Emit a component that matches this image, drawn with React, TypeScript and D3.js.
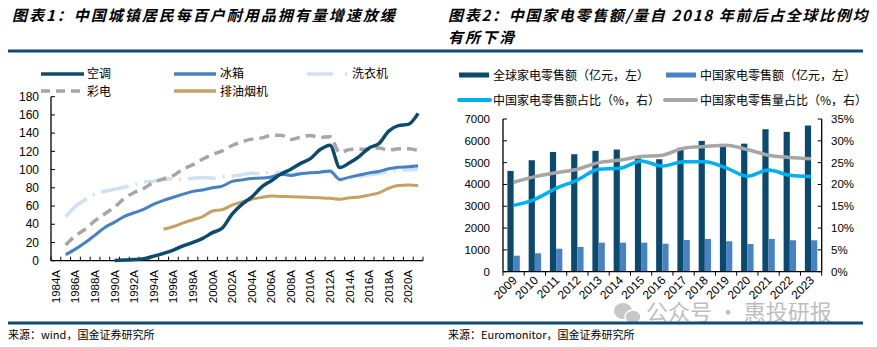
import React from "react";
import * as d3 from "d3";

// ---------- Chart 1 data ----------
const years1 = d3.range(1984, 2022); // 1984..2021 categories
const yTicks1 = [0, 20, 40, 60, 80, 100, 120, 140, 160, 180];
const acYears = d3.range(1990, 2022);
const acValues = [0.3, 0.7, 1.2, 2.3, 5.0, 8.1, 11.6, 16.3, 20.0, 24.5, 30.8, 35.8, 51.1, 61.8, 69.8, 80.7, 87.8, 95.1, 100.3, 106.8, 112.1, 122.0, 126.8, 102.2, 107.4, 114.6, 123.7, 128.6, 142.2, 148.3, 149.6, 161.7];
const fridgeYears = d3.range(1985, 2022);
const fridgeValues = [6.6, 12.7, 19.9, 28.1, 36.5, 42.3, 48.7, 52.6, 56.7, 62.1, 66.2, 69.7, 73.0, 76.1, 77.7, 80.1, 81.9, 87.0, 88.7, 90.2, 90.7, 91.8, 95.0, 93.6, 95.4, 96.6, 97.2, 98.5, 89.2, 91.7, 94.0, 96.4, 98.0, 100.9, 102.5, 103.1, 104.2];
const washerYears = d3.range(1985, 2022);
const washerValues = [48.3, 59.7, 66.8, 73.4, 76.2, 78.4, 80.6, 83.4, 86.4, 87.3, 89.0, 90.1, 89.1, 90.6, 91.4, 90.5, 92.2, 92.9, 94.4, 95.9, 95.5, 96.8, 96.8, 94.7, 96.0, 96.9, 97.1, 98.0, 88.4, 90.7, 92.3, 94.2, 95.7, 97.7, 99.2, 99.7, 100.5];
const tvYears = d3.range(1985, 2022);
const tvValues = [17.2, 27.4, 34.6, 43.9, 51.5, 59.0, 68.4, 74.9, 79.5, 86.2, 89.8, 93.5, 100.5, 105.4, 111.6, 116.6, 120.5, 126.4, 130.5, 133.4, 134.8, 137.4, 137.8, 132.9, 135.7, 137.4, 135.2, 136.1, 118.6, 122.0, 122.3, 122.3, 123.8, 121.3, 122.8, 123.0, 121.0];
const hoodYears = d3.range(1995, 2022);
const hoodValues = [34.5, 37.5, 41.5, 45.0, 48.5, 54.5, 56.0, 61.0, 64.5, 67.5, 69.5, 71.0, 70.5, 70.3, 70.0, 69.5, 69.0, 68.5, 67.5, 69.0, 70.0, 72.0, 74.5, 79.5, 82.5, 83.0, 82.5];

// ---------- Chart 2 data ----------
const years2 = ["2009", "2010", "2011", "2012", "2013", "2014", "2015", "2016", "2017", "2018", "2019", "2020", "2021", "2022", "2023"];
const globalSales = [4620, 5110, 5490, 5385, 5540, 5600, 5200, 5156, 5680, 5995, 5820, 5870, 6530, 6410, 6700];
const chinaSales = [734, 843, 1055, 1133, 1330, 1330, 1330, 1284, 1454, 1500, 1394, 1270, 1500, 1440, 1440];
const chinaSalesShare = [15.2, 16.6, 19.1, 21.0, 23.5, 23.7, 25.4, 24.2, 25.2, 25.2, 23.8, 21.9, 23.3, 22.1, 21.8];
const chinaVolumeShare = [20.5, 21.8, 22.7, 23.5, 25.0, 25.6, 26.4, 26.7, 28.3, 28.7, 29.0, 28.0, 26.7, 26.2, 25.9];
const yTicksL2 = [0, 1000, 2000, 3000, 4000, 5000, 6000, 7000];
const yTicksR2 = [0, 5, 10, 15, 20, 25, 30, 35];

const CJK = '"Noto Sans CJK SC", sans-serif';
const LAT = '"Liberation Sans", Arial, sans-serif';

function Chart1() {
  const x = d3.scaleBand<number>().domain(years1).range([51, 423]);
  const y = d3.scaleLinear().domain([0, 180]).range([260.7, 96.7]);
  const cx = (yr: number) => (x(yr) as number) + x.bandwidth() / 2;
  const mk = (ys: number[], vs: number[]) =>
    d3.line<number>().x((_, i) => cx(ys[i])).y((v) => y(v)).curve(d3.curveMonotoneX)(vs) || "";
  const boundaries = years1.map((yr) => x(yr) as number).concat([423]);
  return (
    <g>
      {/* axes */}
      <line x1={51} x2={51} y1={96.7} y2={260.7} stroke="#000" strokeWidth={1.3} />
      <line x1={51} x2={423} y1={260.7} y2={260.7} stroke="#000" strokeWidth={1.3} />
      {yTicks1.map((t) => (
        <g key={t}>
          <line x1={51} x2={55} y1={y(t)} y2={y(t)} stroke="#000" strokeWidth={1} />
          <text x={39} y={y(t) + 4.2} textAnchor="end" fontSize={12} fontFamily={LAT} fill="#000">{t}</text>
        </g>
      ))}
      {boundaries.map((b, i) => (
        <line key={i} x1={b} x2={b} y1={260.7} y2={256.7} stroke="#000" strokeWidth={1} />
      ))}
      {years1.filter((yr) => yr % 2 === 0).map((yr) => (
        <text key={yr} transform={`translate(${cx(yr) + 4},${270}) rotate(-90)`} textAnchor="end" fontSize={11.5} fontFamily={LAT} fill="#000">{yr}A</text>
      ))}
      {/* series */}
      <path d={mk(washerYears, washerValues)} fill="none" stroke="#cfe1f2" strokeWidth={3.5} strokeDasharray="28,7,2,7" />
      <path d={mk(tvYears, tvValues)} fill="none" stroke="#a6a6a6" strokeWidth={3.5} strokeDasharray="10,6" />
      <path d={mk(hoodYears, hoodValues)} fill="none" stroke="#c7a062" strokeWidth={3} />
      <path d={mk(fridgeYears, fridgeValues)} fill="none" stroke="#4682c3" strokeWidth={3} />
      <path d={mk(acYears, acValues)} fill="none" stroke="#0d4b6c" strokeWidth={3.5} />
      {/* legend */}
      <line x1={41} x2={84} y1={74} y2={74} stroke="#0d4b6c" strokeWidth={3.5} />
      <text x={87} y={77.5} fontSize={12} fontFamily={CJK}>空调</text>
      <line x1={174} x2={216} y1={74} y2={74} stroke="#4682c3" strokeWidth={3.5} />
      <text x={220} y={77.5} fontSize={12} fontFamily={CJK}>冰箱</text>
      <line x1={307} x2={349} y1={74} y2={74} stroke="#cfe1f2" strokeWidth={3.5} strokeDasharray="26,12,2,12" />
      <text x={352} y={77.5} fontSize={12} fontFamily={CJK}>洗衣机</text>
      <line x1={41} x2={80} y1={91} y2={91} stroke="#a6a6a6" strokeWidth={3.5} strokeDasharray="9,6" />
      <text x={87} y={95.5} fontSize={12} fontFamily={CJK}>彩电</text>
      <line x1={174} x2={216} y1={91} y2={91} stroke="#c7a062" strokeWidth={3.5} />
      <text x={220} y={95.5} fontSize={12} fontFamily={CJK}>排油烟机</text>
    </g>
  );
}

function Chart2() {
  const x = d3.scaleBand<string>().domain(years2).range([503, 821.7]);
  const sub = d3.scaleBand<string>().domain(["g", "c"]).range([0, x.bandwidth()]).paddingOuter(0.71);
  const yL = d3.scaleLinear().domain([0, 7000]).range([271.7, 119]);
  const yR = d3.scaleLinear().domain([0, 35]).range([271.7, 119]);
  const cx = (k: string) => (x(k) as number) + x.bandwidth() / 2;
  const mk = (vs: number[]) => d3.line<number>().x((_, i) => cx(years2[i])).y((v) => yR(v)).curve(d3.curveMonotoneX)(vs) || "";
  const boundaries = years2.map((k) => x(k) as number).concat([821.7]);
  return (
    <g>
      {years2.map((k, i) => (
        <g key={k}>
          <rect x={(x(k) as number) + (sub("g") as number)} width={sub.bandwidth()} y={yL(globalSales[i])} height={271.7 - yL(globalSales[i])} fill="#0b4a6f" />
          <rect x={(x(k) as number) + (sub("c") as number)} width={sub.bandwidth()} y={yL(chinaSales[i])} height={271.7 - yL(chinaSales[i])} fill="#4783c3" />
        </g>
      ))}
      <path d={mk(chinaVolumeShare)} fill="none" stroke="#a6a6a6" strokeWidth={3.5} />
      <path d={mk(chinaSalesShare)} fill="none" stroke="#00b0f0" strokeWidth={3.5} />
      {/* axes */}
      <line x1={503} x2={503} y1={119} y2={271.7} stroke="#000" strokeWidth={1.3} />
      <line x1={821.7} x2={821.7} y1={119} y2={271.7} stroke="#000" strokeWidth={1.3} />
      <line x1={503} x2={821.7} y1={271.7} y2={271.7} stroke="#000" strokeWidth={1.3} />
      {yTicksL2.map((t) => (
        <g key={t}>
          <line x1={503} x2={507} y1={yL(t)} y2={yL(t)} stroke="#000" />
          <text x={490} y={yL(t) + 4} textAnchor="end" fontSize={11.5} fontFamily={LAT}>{t}</text>
        </g>
      ))}
      {yTicksR2.map((t) => (
        <g key={t}>
          <line x1={817.7} x2={821.7} y1={yR(t)} y2={yR(t)} stroke="#000" />
          <text x={831} y={yR(t) + 4} textAnchor="start" fontSize={11.5} fontFamily={LAT}>{t}%</text>
        </g>
      ))}
      {boundaries.map((b, i) => (
        <line key={i} x1={b} x2={b} y1={271.7} y2={275.7} stroke="#000" />
      ))}
      {years2.map((k) => (
        <text key={k} transform={`translate(${cx(k) + 4},${281}) rotate(-45)`} textAnchor="end" fontSize={12} fontFamily={LAT}>{k}</text>
      ))}
      {/* legend */}
      <rect x={459} y={72.5} width={30} height={5} fill="#0b4a6f" />
      <text x={493} y={80} fontSize={12} fontFamily={CJK}>全球家电零售额（亿元，左）</text>
      <rect x={666} y={72.5} width={30} height={5} fill="#4783c3" />
      <text x={700} y={80} fontSize={12} fontFamily={CJK}>中国家电零售额（亿元，左）</text>
      <line x1={459} x2={490} y1={100} y2={100} stroke="#00b0f0" strokeWidth={4} strokeLinecap="round" />
      <text x={493} y={105} fontSize={12} fontFamily={CJK}>中国家电零售额占比（%，右）</text>
      <line x1={665} x2={696} y1={100} y2={100} stroke="#a6a6a6" strokeWidth={4} strokeLinecap="round" />
      <text x={700} y={105} fontSize={12} fontFamily={CJK}>中国家电零售量占比（%，右）</text>
    </g>
  );
}

export default function App() {
  return (
    <svg width={877} height={347} style={{ position: "absolute", left: 0, top: 0, background: "#fff" }}>
      <rect width={877} height={347} fill="#fff" />
      <text x={12} y={21} fontSize={15} fontWeight={700} fontStyle="italic" fontFamily={CJK} letterSpacing={2}>图表1：中国城镇居民每百户耐用品拥有量增速放缓</text>
      <text x={448} y={21} fontSize={15} fontWeight={700} fontStyle="italic" fontFamily={CJK} letterSpacing={1.7}>图表2：中国家电零售额/量自 2018 年前后占全球比例均</text>
      <text x={448} y={43} fontSize={15} fontWeight={700} fontStyle="italic" fontFamily={CJK} letterSpacing={2}>有所下滑</text>
      <line x1={8} x2={863} y1={51} y2={51} stroke="#0e4c72" strokeWidth={3} />
      <Chart1 />
      <Chart2 />
      {/* watermark */}
      <g opacity={0.55}>
        <ellipse cx={623} cy={311} rx={9} ry={8} fill="#9a9a9a" />
        <ellipse cx={633} cy={317} rx={8} ry={7} fill="#9a9a9a" stroke="#fff" strokeWidth={1.5} />
        <text x={646} y={320} fontSize={22} fontFamily={CJK} fill="#8a8a8a">公众号 · 惠投研报</text>
      </g>
      <line x1={8} x2={863} y1={323} y2={323} stroke="#0e4c72" strokeWidth={3} />
      <text x={8} y={339} fontSize={11} fontFamily={CJK}>来源：wind，国金证券研究所</text>
      <text x={448} y={339} fontSize={11} fontFamily={CJK}>来源：Euromonitor，国金证券研究所</text>
    </svg>
  );
}
